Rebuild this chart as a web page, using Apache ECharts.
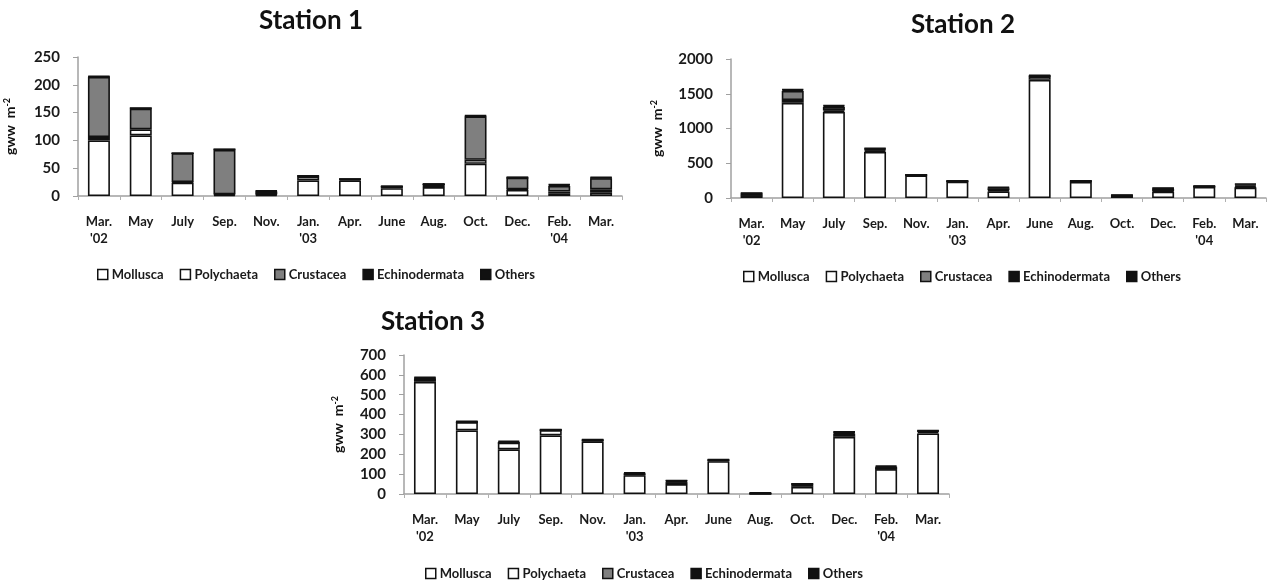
<!DOCTYPE html>
<html>
<head>
<meta charset="utf-8">
<script src="https://cdn.jsdelivr.net/npm/echarts@6/dist/echarts.min.js"></script>
<style>html,body{margin:0;padding:0;background:#fff}#c{width:1267px;height:585px}</style>
</head>
<body>
<div id="c"></div>
<script>
const categories = ["Mar.\n'02","May","July","Sep.","Nov.","Jan.\n'03","Apr.","June","Aug.","Oct.","Dec.","Feb.\n'04","Mar."];
const groups = ["Mollusca","Polychaeta","Crustacea","Echinodermata","Others"];

const s1Mollusca      = [100,109,24,2,2,28,28,14,16,58,11,5,6];
const s1Polychaeta    = [6,11,1,1,1,7,2,3,5,7,1,3,6];
const s1Crustacea     = [108,37,52,80,5,1,0,0,0,78,21,10,20];
const s1Echinodermata = [1,1,0,1,1,0,0,0,0,1,0,2,1];
const s1Others        = [1,0,0,0,1,1,1,1,1,1,1,1,1];

const s2Mollusca      = [25,1370,1240,665,325,235,95,1700,230,30,90,160,150];
const s2Polychaeta    = [5,40,20,20,5,5,15,50,10,5,10,5,10];
const s2Crustacea     = [30,130,50,15,0,0,30,5,0,0,30,0,20];
const s2Echinodermata = [7,16,15,10,4,5,10,5,5,4,10,4,15];
const s2Others        = [5,10,10,8,3,5,9,9,5,4,5,4,12];

const s3Mollusca      = [565,320,225,295,265,95,50,165,2,36,288,125,305];
const s3Polychaeta    = [15,42,33,27,5,5,10,5,0,12,16,3,8];
const s3Crustacea     = [2,0,0,0,0,0,5,0,0,2,5,0,3];
const s3Echinodermata = [4,3,5,2,3,5,2,2,3,1,3,10,2];
const s3Others        = [3,2,5,1,2,4,2,2,2,1,2,5,2];

const yTicks1 = {min:0,max:250,interval:50};
const yTicks2 = {min:0,max:2000,interval:500};
const yTicks3 = {min:0,max:700,interval:100};

const stations = [
  [s1Mollusca,s1Polychaeta,s1Crustacea,s1Echinodermata,s1Others],
  [s2Mollusca,s2Polychaeta,s2Crustacea,s2Echinodermata,s2Others],
  [s3Mollusca,s3Polychaeta,s3Crustacea,s3Echinodermata,s3Others]
];
const yScales = [yTicks1,yTicks2,yTicks3];

const FONT = 'Lato';
const fills = ['#ffffff','#ffffff','#7f7f7f','#111111','#111111'];

const grids = [
  {left:78, top:57, width:544, height:139},
  {left:731, top:59, width:535, height:139},
  {left:404, top:355, width:545, height:139}
];
const nameGaps = [60, 66, 58];

const chart = echarts.init(document.getElementById('c'), null, {renderer:'canvas'});

const xAxes = [], yAxes = [], series = [];
for (let i=0;i<3;i++){
  xAxes.push({
    type:'category', gridIndex:i, data:categories,
    axisLine:{lineStyle:{color:'#a0a0a0',width:1.5}},
    axisTick:{show:true,length:4,lineStyle:{color:'#b0b0b0'}},
    axisLabel:{fontFamily:FONT,fontWeight:'bold',fontSize:13,color:'#1a1a1a',lineHeight:17,margin:17,interval:0}
  });
  yAxes.push(Object.assign({
    type:'value', gridIndex:i,
    name:'{a|gww  m}{s|-2}', nameLocation:'middle', nameGap:nameGaps[i], nameRotate:90,
    nameTextStyle:{rich:{a:{fontFamily:FONT,fontWeight:'bold',fontSize:14,color:'#111'},s:{fontFamily:FONT,fontWeight:'bold',fontSize:9,color:'#111',verticalAlign:'top',padding:[0,0,6,0]}}},
    axisLine:{show:true,lineStyle:{color:'#a0a0a0',width:1.5}},
    axisTick:{show:true,length:5,lineStyle:{color:'#a0a0a0'}},
    splitLine:{show:false},
    axisLabel:{fontFamily:FONT,fontWeight:'bold',fontSize:15,color:'#1a1a1a',margin:18,formatter:v=>String(v)}
  }, yScales[i]));
  stations[i].forEach((vals,k)=>{
    series.push({
      type:'bar', name:groups[k], xAxisIndex:i, yAxisIndex:i, stack:'st'+i,
      data:vals, barWidth:22,
      itemStyle:{color:fills[k],borderColor:'#111',borderWidth:1.6},
      emphasis:{disabled:true}
    });
  });
}

const legendBase = {
  data:groups, icon:'rect', itemWidth:10, itemHeight:10, itemGap:16, padding:0,
  textStyle:{fontFamily:FONT,fontWeight:'bold',fontSize:13,color:'#1a1a1a',padding:[0,0,0,-1]},
  itemStyle:{borderColor:'#111',borderWidth:1.5}
};

const titleStyle = {fontFamily:FONT,fontWeight:'bold',fontSize:26,color:'#111'};

chart.setOption({
  animation:false,
  backgroundColor:'#fff',
  title:[
    {text:'Station 1',left:306,top:3,textAlign:'center',textStyle:titleStyle},
    {text:'Station 2',left:958,top:7,textAlign:'center',textStyle:titleStyle},
    {text:'Station 3',left:428,top:304,textAlign:'center',textStyle:titleStyle}
  ],
  legend:[
    Object.assign({},legendBase,{left:97,top:268}),
    Object.assign({},legendBase,{left:743,top:270}),
    Object.assign({},legendBase,{left:425,top:567})
  ],
  grid:grids,
  xAxis:xAxes,
  yAxis:yAxes,
  series:series
});
</script>
</body>
</html>
